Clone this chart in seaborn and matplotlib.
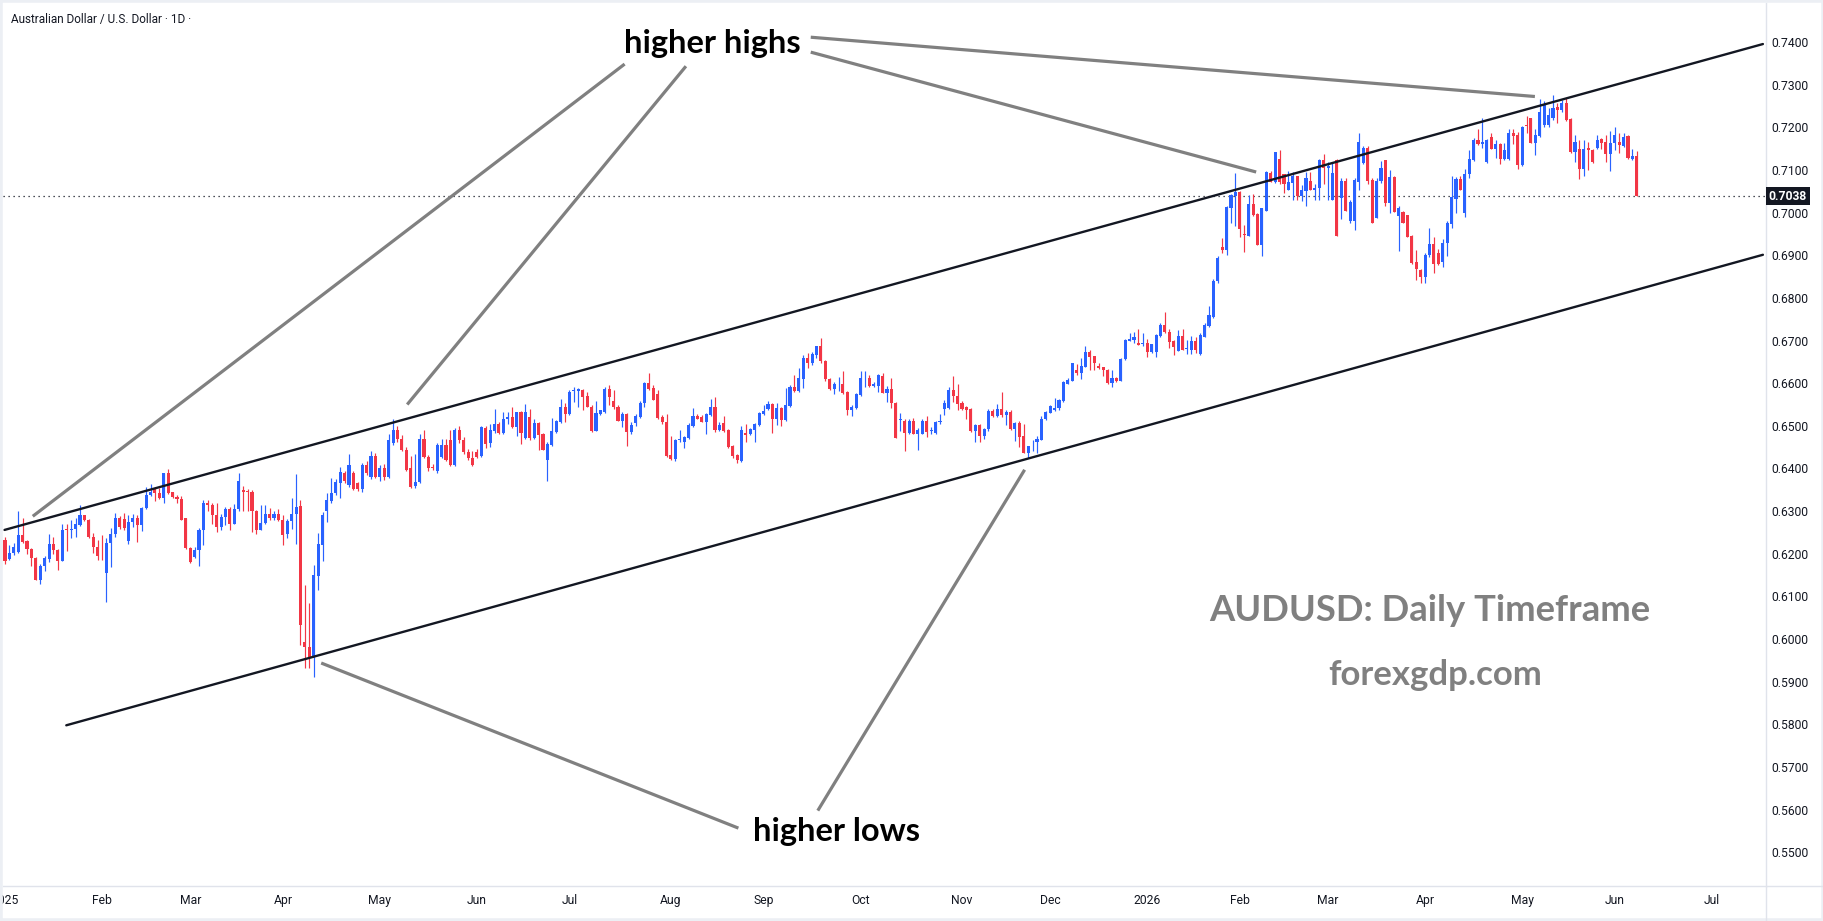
import numpy as np
import pandas as pd
import matplotlib
matplotlib.use('Agg')
import matplotlib.pyplot as plt
from matplotlib import transforms
from matplotlib.patches import Rectangle
from matplotlib.lines import Line2D
import seaborn as sns

# AUDUSD daily candles, prices in pips (x 0.0001), Jan 2025 -> Jun 2026
opens = [
    6232, 6187, 6201, 6205, 6244, 6230, 6211, 6190, 6139, 6172,
    6189, 6224, 6210, 6184, 6257, 6255, 6257, 6268, 6292, 6280,
    6239, 6215, 6196, 6156, 6225, 6246, 6283, 6282, 6231, 6275,
    6283, 6267, 6307, 6338, 6355, 6343, 6332, 6389, 6345, 6334,
    6328, 6285, 6213, 6193, 6208, 6255, 6318, 6315, 6290, 6263,
    6286, 6306, 6270, 6306, 6350, 6347, 6345, 6300, 6255, 6273,
    6293, 6285, 6293, 6279, 6246, 6278, 6293, 6311, 5994, 5981,
    5955, 6148, 6221, 6301, 6324, 6342, 6367, 6390, 6361, 6390,
    6365, 6353, 6408, 6380, 6430, 6381, 6402, 6381, 6460, 6490,
    6470, 6444, 6400, 6360, 6368, 6470, 6428, 6404, 6394, 6428,
    6455, 6467, 6408, 6490, 6467, 6439, 6424, 6439, 6429, 6496,
    6459, 6488, 6504, 6484, 6516, 6520, 6498, 6532, 6471, 6521,
    6472, 6507, 6481, 6420, 6455, 6486, 6509, 6543, 6528, 6582,
    6581, 6584, 6570, 6545, 6489, 6528, 6533, 6587, 6559, 6543,
    6512, 6528, 6486, 6507, 6521, 6553, 6601, 6588, 6575, 6520,
    6510, 6432, 6423, 6467, 6463, 6471, 6500, 6523, 6520, 6510,
    6526, 6543, 6490, 6506, 6490, 6453, 6432, 6418, 6483, 6481,
    6490, 6502, 6527, 6539, 6551, 6515, 6541, 6514, 6547, 6590,
    6582, 6610, 6660, 6647, 6666, 6686, 6651, 6610, 6587, 6597,
    6598, 6580, 6537, 6542, 6572, 6611, 6611, 6594, 6594, 6617,
    6578, 6586, 6553, 6514, 6512, 6484, 6512, 6482, 6482, 6512,
    6488, 6484, 6509, 6539, 6541, 6585, 6570, 6554, 6543, 6539,
    6487, 6502, 6477, 6492, 6535, 6523, 6539, 6526, 6532, 6492,
    6506, 6477, 6437, 6462, 6461, 6467, 6516, 6530, 6536, 6541,
    6559, 6598, 6606, 6631, 6623, 6639, 6673, 6664, 6641, 6639,
    6631, 6601, 6613, 6604, 6656, 6700, 6702, 6695, 6692, 6694,
    6672, 6674, 6711, 6737, 6721, 6699, 6676, 6711, 6680, 6678,
    6700, 6669, 6709, 6735, 6756, 6839, 6920, 6912, 7010, 7039,
    7048, 6949, 6945, 7020, 6996, 6924, 7004, 7092, 7072, 7125,
    7090, 7054, 7069, 7085, 7039, 7050, 7074, 7053, 7057, 7123,
    7104, 7029, 7122, 7033, 7074, 6981, 6979, 7072, 7115, 7151,
    7077, 6987, 7073, 7122, 7022, 7084, 6992, 7002, 6994, 6945,
    6885, 6865, 6850, 6900, 6926, 6905, 6885, 6928, 6974, 7032,
    7078, 6998, 7090, 7124, 7170, 7160, 7119, 7178, 7150, 7160,
    7125, 7126, 7187, 7182, 7111, 7205, 7221, 7162, 7179, 7205,
    7205, 7221, 7248, 7240, 7256, 7219, 7143, 7150, 7103, 7151,
    7147, 7152, 7172, 7166, 7137, 7162, 7166, 7156, 7180, 7125,
    7132,
]
highs = [
    6240, 6220, 6225, 6301, 6285, 6232, 6213, 6192, 6175, 6194,
    6246, 6240, 6212, 6270, 6270, 6280, 6284, 6314, 6292, 6282,
    6248, 6232, 6244, 6236, 6260, 6295, 6288, 6295, 6290, 6293,
    6290, 6310, 6357, 6363, 6357, 6355, 6390, 6398, 6345, 6338,
    6336, 6285, 6215, 6215, 6260, 6326, 6325, 6320, 6318, 6294,
    6310, 6310, 6316, 6390, 6360, 6353, 6350, 6302, 6315, 6315,
    6308, 6300, 6305, 6290, 6282, 6330, 6387, 6326, 6126, 6084,
    6174, 6248, 6299, 6343, 6377, 6375, 6404, 6395, 6434, 6395,
    6368, 6412, 6418, 6440, 6436, 6408, 6410, 6480, 6515, 6500,
    6478, 6450, 6430, 6435, 6480, 6490, 6432, 6410, 6460, 6470,
    6470, 6490, 6495, 6500, 6475, 6445, 6442, 6445, 6500, 6500,
    6504, 6539, 6510, 6533, 6533, 6543, 6532, 6534, 6551, 6540,
    6515, 6510, 6483, 6462, 6518, 6514, 6563, 6553, 6583, 6592,
    6588, 6587, 6580, 6548, 6558, 6538, 6592, 6595, 6585, 6548,
    6532, 6530, 6508, 6528, 6558, 6603, 6625, 6596, 6585, 6526,
    6528, 6476, 6470, 6490, 6476, 6506, 6541, 6528, 6525, 6530,
    6563, 6567, 6508, 6523, 6492, 6455, 6434, 6499, 6504, 6495,
    6506, 6532, 6549, 6559, 6554, 6554, 6544, 6588, 6596, 6619,
    6635, 6665, 6670, 6674, 6688, 6707, 6655, 6612, 6602, 6615,
    6628, 6582, 6548, 6578, 6628, 6628, 6618, 6602, 6621, 6623,
    6593, 6611, 6556, 6531, 6516, 6517, 6518, 6495, 6515, 6522,
    6497, 6512, 6527, 6561, 6592, 6617, 6597, 6559, 6546, 6541,
    6505, 6504, 6495, 6540, 6540, 6551, 6579, 6538, 6538, 6510,
    6512, 6504, 6453, 6466, 6477, 6523, 6535, 6550, 6565, 6563,
    6604, 6613, 6648, 6645, 6660, 6686, 6678, 6664, 6648, 6639,
    6633, 6631, 6614, 6659, 6703, 6717, 6719, 6726, 6717, 6703,
    6692, 6715, 6741, 6768, 6727, 6702, 6725, 6726, 6701, 6711,
    6709, 6717, 6741, 6780, 6844, 6898, 6940, 7015, 7043, 7092,
    7050, 6971, 7041, 7043, 6998, 7010, 7098, 7098, 7143, 7147,
    7090, 7098, 7096, 7086, 7064, 7094, 7096, 7066, 7125, 7137,
    7119, 7115, 7125, 7080, 7080, 7030, 7080, 7186, 7156, 7155,
    7080, 7080, 7121, 7122, 7100, 7086, 7015, 7004, 6995, 6947,
    6912, 6867, 6904, 6963, 6943, 6915, 6937, 6979, 7085, 7084,
    7086, 7103, 7146, 7174, 7197, 7221, 7172, 7186, 7170, 7164,
    7164, 7197, 7195, 7188, 7203, 7226, 7221, 7195, 7266, 7262,
    7245, 7275, 7256, 7264, 7268, 7221, 7182, 7170, 7170, 7166,
    7150, 7182, 7174, 7182, 7190, 7200, 7186, 7186, 7182, 7148,
    7145,
]
lows = [
    6175, 6185, 6197, 6202, 6226, 6200, 6171, 6138, 6129, 6160,
    6180, 6200, 6162, 6183, 6207, 6238, 6240, 6265, 6278, 6236,
    6202, 6186, 6186, 6088, 6170, 6240, 6258, 6255, 6222, 6262,
    6227, 6254, 6305, 6335, 6323, 6328, 6318, 6340, 6332, 6320,
    6280, 6211, 6178, 6190, 6172, 6221, 6300, 6271, 6250, 6256,
    6268, 6256, 6269, 6300, 6300, 6300, 6250, 6247, 6255, 6270,
    6280, 6280, 6277, 6220, 6236, 6258, 6223, 5986, 5932, 5932,
    5912, 6115, 6182, 6275, 6320, 6338, 6330, 6365, 6357, 6350,
    6348, 6345, 6385, 6375, 6378, 6370, 6372, 6378, 6455, 6462,
    6440, 6393, 6355, 6355, 6366, 6425, 6395, 6396, 6390, 6425,
    6418, 6405, 6405, 6460, 6435, 6420, 6405, 6425, 6427, 6447,
    6451, 6484, 6481, 6482, 6504, 6496, 6476, 6457, 6469, 6467,
    6468, 6443, 6443, 6371, 6453, 6484, 6507, 6508, 6525, 6555,
    6543, 6537, 6543, 6486, 6487, 6526, 6530, 6549, 6540, 6512,
    6497, 6453, 6480, 6500, 6518, 6545, 6585, 6561, 6515, 6505,
    6426, 6420, 6418, 6461, 6449, 6468, 6498, 6515, 6510, 6482,
    6524, 6486, 6488, 6486, 6448, 6425, 6414, 6416, 6463, 6479,
    6463, 6499, 6525, 6537, 6484, 6502, 6500, 6512, 6545, 6580,
    6580, 6588, 6635, 6643, 6660, 6648, 6605, 6585, 6575, 6582,
    6575, 6525, 6522, 6540, 6570, 6590, 6590, 6592, 6579, 6578,
    6557, 6541, 6472, 6489, 6440, 6481, 6480, 6443, 6480, 6473,
    6480, 6480, 6505, 6525, 6539, 6555, 6536, 6537, 6515, 6486,
    6461, 6463, 6470, 6488, 6520, 6520, 6520, 6502, 6490, 6465,
    6451, 6437, 6424, 6441, 6437, 6466, 6513, 6529, 6535, 6538,
    6556, 6597, 6605, 6620, 6610, 6637, 6632, 6632, 6633, 6617,
    6598, 6592, 6602, 6604, 6655, 6698, 6694, 6689, 6688, 6661,
    6670, 6662, 6709, 6718, 6682, 6665, 6676, 6678, 6669, 6669,
    6670, 6666, 6708, 6731, 6752, 6836, 6905, 6900, 6976, 6968,
    6942, 6908, 6944, 6992, 6924, 6897, 7004, 7072, 7070, 7068,
    7045, 7052, 7030, 7030, 7026, 7015, 7053, 7030, 7030, 7068,
    7030, 7029, 6944, 6986, 7004, 6976, 6959, 7053, 7113, 7067,
    6976, 6987, 7070, 7015, 6999, 7002, 6911, 6975, 6943, 6879,
    6842, 6834, 6834, 6896, 6859, 6877, 6873, 6898, 6964, 6998,
    7052, 6990, 7080, 7121, 7158, 7152, 7117, 7148, 7127, 7114,
    7123, 7124, 7161, 7103, 7108, 7186, 7162, 7135, 7178, 7200,
    7201, 7218, 7209, 7236, 7215, 7140, 7119, 7079, 7086, 7100,
    7116, 7150, 7150, 7119, 7098, 7146, 7140, 7153, 7125, 7122,
    7038,
]
closes = [
    6182, 6201, 6215, 6244, 6228, 6211, 6190, 6139, 6172, 6190,
    6224, 6210, 6184, 6256, 6255, 6257, 6270, 6292, 6280, 6239,
    6215, 6196, 6194, 6225, 6246, 6283, 6262, 6260, 6275, 6283,
    6267, 6307, 6338, 6345, 6343, 6332, 6389, 6343, 6334, 6328,
    6280, 6213, 6180, 6208, 6255, 6318, 6315, 6290, 6263, 6286,
    6306, 6270, 6306, 6370, 6346, 6345, 6300, 6255, 6273, 6293,
    6285, 6293, 6279, 6245, 6278, 6293, 6310, 6033, 5981, 5955,
    6150, 6223, 6291, 6326, 6343, 6369, 6391, 6371, 6408, 6353,
    6353, 6408, 6389, 6430, 6381, 6402, 6381, 6467, 6490, 6470,
    6444, 6397, 6357, 6368, 6470, 6428, 6400, 6400, 6455, 6455,
    6420, 6408, 6490, 6467, 6439, 6424, 6408, 6428, 6498, 6457,
    6490, 6504, 6484, 6516, 6521, 6498, 6532, 6484, 6532, 6472,
    6506, 6479, 6443, 6458, 6488, 6511, 6543, 6527, 6580, 6582,
    6586, 6568, 6545, 6489, 6529, 6536, 6587, 6568, 6543, 6512,
    6527, 6486, 6503, 6523, 6553, 6601, 6587, 6561, 6518, 6508,
    6429, 6423, 6467, 6467, 6473, 6502, 6523, 6517, 6510, 6528,
    6543, 6490, 6503, 6489, 6451, 6430, 6420, 6490, 6479, 6492,
    6504, 6529, 6535, 6551, 6516, 6541, 6514, 6549, 6592, 6582,
    6613, 6660, 6647, 6668, 6686, 6651, 6609, 6587, 6597, 6597,
    6578, 6537, 6543, 6575, 6611, 6611, 6594, 6598, 6618, 6578,
    6586, 6553, 6472, 6514, 6484, 6512, 6482, 6490, 6512, 6486,
    6488, 6510, 6509, 6554, 6585, 6570, 6551, 6539, 6536, 6487,
    6502, 6477, 6492, 6535, 6523, 6539, 6526, 6532, 6492, 6506,
    6475, 6437, 6453, 6462, 6469, 6515, 6532, 6547, 6541, 6561,
    6602, 6608, 6647, 6623, 6640, 6673, 6662, 6647, 6636, 6630,
    6601, 6611, 6604, 6657, 6702, 6704, 6708, 6690, 6692, 6672,
    6692, 6713, 6737, 6721, 6697, 6684, 6711, 6678, 6682, 6700,
    6678, 6713, 6737, 6760, 6840, 6893, 6912, 7012, 7041, 7048,
    6961, 6947, 7020, 6994, 6924, 7010, 7096, 7072, 7141, 7072,
    7068, 7072, 7085, 7039, 7054, 7082, 7053, 7057, 7123, 7104,
    7109, 7092, 6944, 7074, 7004, 7025, 7077, 7166, 7151, 7073,
    6976, 7073, 7104, 7022, 7084, 7002, 7010, 6975, 6943, 6881,
    6867, 6850, 6900, 6926, 6879, 6880, 6928, 6976, 7037, 7078,
    7053, 7091, 7125, 7170, 7160, 7166, 7170, 7150, 7160, 7125,
    7146, 7187, 7179, 7111, 7201, 7202, 7162, 7182, 7236, 7252,
    7229, 7244, 7240, 7256, 7217, 7143, 7166, 7103, 7150, 7147,
    7118, 7171, 7164, 7137, 7164, 7181, 7158, 7178, 7127, 7132,
    7038,
]

last_price = 0.7038
first_day = '2025-01-02'
axis_end_day = '2026-07-31'
no_bar_days = ['2025-12-25', '2026-01-01']

# channel (bar index, price)
upper_channel = [(-0.1, 0.6256), (398.6, 0.7395)]
lower_channel = [(13.9, 0.5798), (398.6, 0.6901)]

# grey pointer lines: (bar0, price0, bar1, price1)
pointers = [
    (140.5, 0.7348, 6.3, 0.6288),
    (154.4, 0.7343, 91.2, 0.6550),
    (182.7, 0.7376, 283.7, 0.7095),
    (182.7, 0.7411, 346.9, 0.7272),
    (166.3, 0.5557, 71.7, 0.5944),
    (184.3, 0.5598, 231.2, 0.6397),
]

UP = '#2962FF'
DOWN = '#F23645'
INK = '#131722'
EDGE = '#e0e3eb'

sns.set_theme(style='white')
plt.rcParams['font.family'] = ['Roboto', 'DejaVu Sans']

W, H = 1824, 921
fig = plt.figure(figsize=(W / 100, H / 100), dpi=100)
fig.patch.set_facecolor('white')
ax = fig.add_axes([3 / W, 35 / H, 1763 / W, 883 / H])
ax.set_facecolor('white')

df = pd.DataFrame({'o': opens, 'h': highs, 'l': lows, 'c': closes}) / 1e4
df['bar'] = np.arange(len(df))
col = np.where(df['c'] >= df['o'], UP, DOWN)

# wicks and bodies
ax.vlines(df['bar'], df[['l', 'o', 'c']].min(axis=1), df[['h', 'o', 'c']].max(axis=1),
          colors=col, lw=0.85, zorder=3)
body_lo = df[['o', 'c']].min(axis=1)
body_h = (df['c'] - df['o']).abs().clip(lower=0.00012)
ax.bar(df['bar'], body_h, bottom=body_lo, width=0.7, color=col, linewidth=0, zorder=4)

# channel lines
chan = pd.DataFrame({
    'line': ['upper', 'upper', 'lower', 'lower'],
    'bar': [upper_channel[0][0], upper_channel[1][0], lower_channel[0][0], lower_channel[1][0]],
    'price': [upper_channel[0][1], upper_channel[1][1], lower_channel[0][1], lower_channel[1][1]],
})
sns.lineplot(data=chan, x='bar', y='price', units='line', estimator=None,
             color=INK, lw=1.7, ax=ax, legend=False, zorder=5)

for b0, p0, b1, p1 in pointers:
    ax.plot([b0, b1], [p0, p1], color='#808080', lw=2.3, solid_capstyle='butt', zorder=6)

ax.axhline(last_price, color=INK, lw=0.9, ls=(0, (1, 3)), zorder=2)

bold = dict(fontweight='bold', family=['Lato', 'DejaVu Sans'], ha='center', va='center', zorder=7)
ax.text(160.4, 0.7397, 'higher highs', fontsize=23.5, color='black', **bold)
ax.text(188.5, 0.5548, 'higher lows', fontsize=23.5, color='black', **bold)
ax.text(323.0, 0.6066, 'AUDUSD: Daily Timeframe', fontsize=26.2, color='#808080', **bold)
ax.text(324.4, 0.5917, 'forexgdp.com', fontsize=25, color='#808080', **bold)

# axes
ax.set_xlim(-0.45, 399.3)
ax.set_ylim(0.54213, 0.74912)
ax.set_xlabel('')
ax.set_ylabel('')

days = pd.bdate_range(first_day, axis_end_day)
days = days[~days.isin(pd.to_datetime(no_bar_days))]
month_key = np.asarray(days.year * 12 + days.month)
first_of_month = np.r_[True, month_key[1:] != month_key[:-1]]
tick_pos = np.flatnonzero(first_of_month)
tick_lab = [str(d.year) if d.month == 1 else d.strftime('%b') for d in days[first_of_month]]
ax.set_xticks(tick_pos)
ax.set_xticklabels(tick_lab)

yt = np.round(np.arange(0.55, 0.7401, 0.01), 2)
ax.yaxis.tick_right()
ax.set_yticks(yt)
ax.set_yticklabels([f'{v:.4f}' for v in yt])
ax.tick_params(axis='both', length=0, labelsize=8.7, colors=INK)
ax.tick_params(axis='x', pad=5.5)
ax.tick_params(axis='y', pad=4.2)
ax.grid(False)
for s in ['top', 'left']:
    ax.spines[s].set_visible(False)
for s in ['right', 'bottom']:
    ax.spines[s].set_color(EDGE)
    ax.spines[s].set_linewidth(1)

# price tag on the right scale
trans = transforms.blended_transform_factory(ax.transAxes, ax.transData)
ax.text(1.0015, last_price, '0.7038', transform=trans, ha='left', va='center',
        fontsize=8.7, color='white', fontweight='bold', clip_on=False, zorder=10,
        bbox=dict(boxstyle='square,pad=0.22', fc=INK, ec='none'))

# separators down to the frame
fig.add_artist(Line2D([1766 / W, 1766 / W], [0, 35 / H], color=EDGE, lw=1))
fig.add_artist(Line2D([1766 / W, 1], [35 / H, 35 / H], color=EDGE, lw=1))
fig.add_artist(Rectangle((0, 0), 1, 1, transform=fig.transFigure, fill=False,
                         edgecolor='#eceff4', lw=4))

fig.text(11 / W, 1 - 19 / H, 'Australian Dollar / U.S. Dollar · 1D ·',
         fontsize=8.5, color=INK, va='center', ha='left')

fig.savefig('out.png', dpi=100)
